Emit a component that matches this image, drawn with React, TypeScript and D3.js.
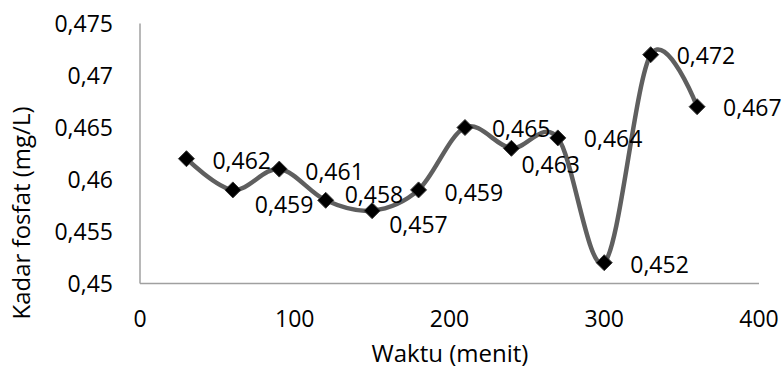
import React from "react";
import * as d3 from "d3";

const times = [30, 60, 90, 120, 150, 180, 210, 240, 270, 300, 330, 360];
const phosphate = [0.462, 0.459, 0.461, 0.458, 0.457, 0.459, 0.465, 0.463, 0.464, 0.452, 0.472, 0.467];
const xTicks = [0, 100, 200, 300, 400];
const yTicks = [0.45, 0.455, 0.46, 0.465, 0.47, 0.475];
// label offsets (layout) relative to the marker: [dx, dy of text center]
const labelOffsets: [number, number][] = [
  [26, 2], [22, 15], [26, 3], [19, -5], [17, 14], [26, 3],
  [27, 1], [10, 17], [26, 1], [26, 2], [26, 1], [26, 1],
];

const fmt = (v: number) => String(+v.toFixed(3)).replace(".", ",");

export default function App() {
  const W = 783, H = 372;
  const x = d3.scaleLinear().domain([0, 400]).range([140, 759]);
  const y = d3.scaleLinear().domain([0.45, 0.475]).range([283.5, 23.5]);
  const pts = times.map((t, i) => [x(t), y(phosphate[i])] as [number, number]);
  const line = d3.line().curve(d3.curveCardinal.tension(0))(pts) || "";
  const font = "'Open Sans', 'Liberation Sans', sans-serif";
  const fs = 23;
  return (
    <svg width={W} height={H} style={{ position: "absolute", left: 0, top: 0 }} fontFamily={font}>
      <rect width={W} height={H} fill="#fff" />
      <line x1={x(0)} x2={x(0)} y1={y(0.475)} y2={y(0.45)} stroke="#a0a0a0" strokeWidth={1.5} />
      <line x1={x(0)} x2={x(400)} y1={y(0.45)} y2={y(0.45)} stroke="#a0a0a0" strokeWidth={1.5} />
      {yTicks.map((t) => (
        <text key={t} x={113} y={y(t)} dy="0.35em" textAnchor="end" fontSize={fs} fill="#000">
          {fmt(t)}
        </text>
      ))}
      {xTicks.map((t) => (
        <text key={t} x={x(t)} y={327} textAnchor="middle" fontSize={fs} fill="#000">
          {t}
        </text>
      ))}
      <text x={450} y={362} textAnchor="middle" fontSize={24} fill="#000">Waktu (menit)</text>
      <text transform={`translate(30,213) rotate(-90)`} textAnchor="middle" fontSize={24} fill="#000">
        Kadar fosfat (mg/L)
      </text>
      <path d={line} fill="none" stroke="#5f5f5f" strokeWidth={4.5} />
      {pts.map(([px, py], i) => (
        <path key={i} d={`M${px},${py - 8}L${px + 8},${py}L${px},${py + 8}L${px - 8},${py}Z`}
          fill="#000" stroke="#3a3a3a" strokeWidth={1} />
      ))}
      {pts.map(([px, py], i) => (
        <text key={"l" + i} x={px + labelOffsets[i][0]} y={py + labelOffsets[i][1]} dy="0.35em"
          fontSize={fs} fill="#000">
          {fmt(phosphate[i])}
        </text>
      ))}
    </svg>
  );
}
